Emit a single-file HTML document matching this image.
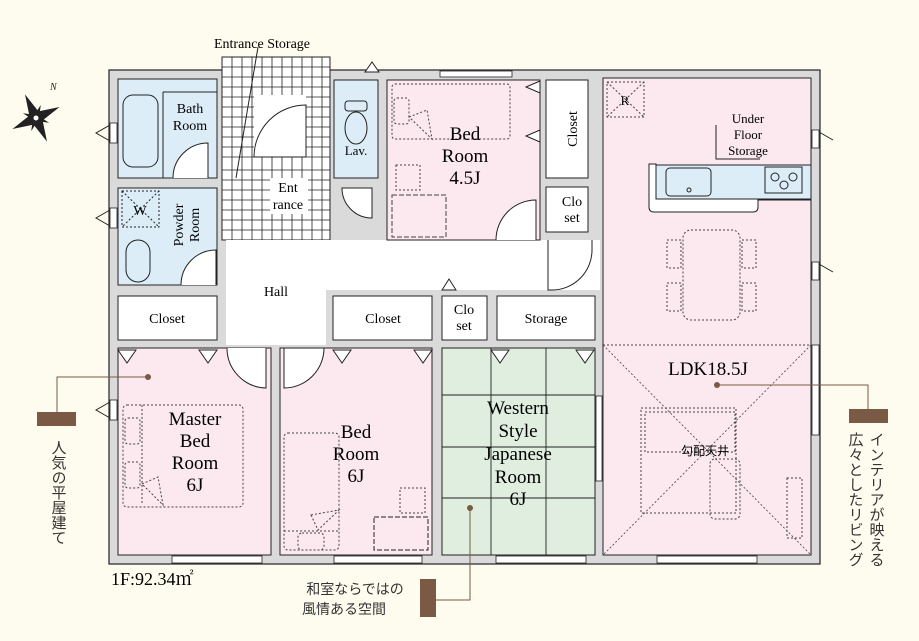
<!DOCTYPE html>
<html><head><meta charset="utf-8"><style>
body{margin:0;background:#fefcee;}
svg{display:block;font-family:"Liberation Serif","Noto Serif CJK SC",serif;}
.s{font-family:"Liberation Sans","Noto Sans CJK JP",sans-serif;}
</style></head><body>
<svg width="919" height="641" viewBox="0 0 919 641" xmlns="http://www.w3.org/2000/svg">
<rect width="919" height="641" fill="#fefcee"/>
<rect x="109" y="70" width="711" height="494" fill="#dadada" stroke="#222" stroke-width="1.2"/>
<rect x="222" y="57" width="108" height="183" fill="#fff" stroke="#222"/>
<g stroke="#222" stroke-width="0.8">
<path d="M222 67H330M222 77H330M222 87H330M222 97H330M222 107H330M222 117H330M222 127H330M222 137H330M222 147H330M222 157H330M222 170H330M222 180H330M222 190H330M222 200H330M222 210H330M222 220H330M222 230H330"/>
<path d="M232 57V240M242 57V240M252 57V240M262 57V240M272 57V240M282 57V240M292 57V240M302 57V240M312 57V240M322 57V240"/>
</g>
<rect x="254" y="95" width="52" height="62" fill="#fff"/>
<path d="M254 157 A52 52 0 0 1 306 105 V157Z" fill="#fff" stroke="#222"/>
<rect x="270" y="178" width="38" height="36" fill="#fff"/>
<line x1="258" y1="47" x2="236" y2="178" stroke="#222"/>
<text x="262" y="48" font-size="14" text-anchor="middle">Entrance Storage</text>
<text x="288" y="192" font-size="14" text-anchor="middle">Ent</text>
<text x="288" y="209" font-size="14" text-anchor="middle">rance</text>
<rect x="118" y="79" width="99" height="99" fill="#dcedf8" stroke="#222"/>
<rect x="123" y="95" width="35" height="72" rx="10" fill="none" stroke="#222"/>
<line x1="163" y1="92" x2="217" y2="92" stroke="#222"/><line x1="163" y1="92" x2="163" y2="178" stroke="#222"/>
<path d="M173 178 A35 35 0 0 1 208 143 V178" fill="#fff" stroke="#222"/>
<text x="190" y="113" font-size="14" text-anchor="middle">Bath</text>
<text x="190" y="130" font-size="14" text-anchor="middle">Room</text>
<rect x="118" y="188" width="99" height="97" fill="#dcedf8" stroke="#222"/>
<rect x="122" y="191" width="37" height="36" fill="none" stroke="#222" stroke-dasharray="2 2"/>
<path d="M122 191L159 227M159 191L122 227" stroke="#222" stroke-dasharray="2 2"/>
<text x="140" y="215" font-size="14" text-anchor="middle">W</text>
<rect x="126" y="240" width="24" height="42" rx="12" fill="none" stroke="#222"/>
<path d="M181 285 A35 35 0 0 1 216 250 V285" fill="#fff" stroke="#222"/>
<text transform="translate(183,225) rotate(-90)" font-size="14" text-anchor="middle">Powder</text>
<text transform="translate(199,225) rotate(-90)" font-size="14" text-anchor="middle">Room</text>
<rect x="334" y="80" width="44" height="98" fill="#dcedf8" stroke="#222"/>
<rect x="345" y="101" width="22" height="10" rx="3" fill="none" stroke="#222"/>
<ellipse cx="356" cy="128" rx="11" ry="16" fill="none" stroke="#222"/>
<text x="356" y="155" font-size="13" text-anchor="middle">Lav.</text>
<path d="M342 188 A30 30 0 0 0 372 218 V188Z" fill="#fff" stroke="#222"/>
<path d="M365 72 L372 62 L379 72Z" fill="#fff" stroke="#222"/>
<path d="M226 240H600V290H326V345H226Z" fill="#fff"/>
<text x="276" y="296" font-size="14" text-anchor="middle">Hall</text>
<path d="M442 290L449 279L456 290Z" fill="#fff" stroke="#222"/>
<rect x="387" y="80" width="153" height="160" fill="#fbe9ef" stroke="#222"/>
<rect x="392" y="84" width="118" height="55" rx="3" fill="none" stroke="#444" stroke-dasharray="2 2"/>
<rect x="394" y="98" width="15" height="26" rx="3" fill="none" stroke="#444" stroke-dasharray="2 2"/>
<path d="M409 117L427 110L432 139Z" fill="none" stroke="#444" stroke-dasharray="2 2"/>
<rect x="396" y="165" width="24" height="25" fill="none" stroke="#444" stroke-dasharray="2 2"/>
<rect x="392" y="195" width="54" height="42" fill="none" stroke="#444" stroke-dasharray="5 2"/>
<path d="M496 240 A40 40 0 0 1 536 200 V240" fill="#fff" stroke="#222"/>
<path d="M540 81L526 87L540 93Z M540 130L526 136L540 142Z" fill="#fff" stroke="#222"/>
<text x="465" y="140" font-size="19" text-anchor="middle">Bed</text>
<text x="465" y="162" font-size="19" text-anchor="middle">Room</text>
<text x="465" y="184" font-size="19" text-anchor="middle">4.5J</text>
<rect x="440" y="71" width="72" height="6" fill="#fff" stroke="#222" stroke-width="0.8"/>
<rect x="546" y="80" width="42" height="98" fill="#fff" stroke="#222"/>
<text transform="translate(577,129) rotate(-90)" font-size="14" text-anchor="middle">Closet</text>
<rect x="546" y="187" width="42" height="45" fill="#fff" stroke="#222"/>
<text x="572" y="206" font-size="14" text-anchor="middle">Clo</text>
<text x="572" y="222" font-size="14" text-anchor="middle">set</text>
<path d="M604 185L614 192L604 199Z" fill="#fff" stroke="#222"/>
<rect x="603" y="78" width="208" height="477" fill="#fbe9ef" stroke="#222"/>
<path d="M548 240V290 H552 A40 40 0 0 0 592 250 V240" fill="#fff" stroke="#222"/>
<rect x="607" y="82" width="37" height="35" fill="none" stroke="#444" stroke-dasharray="2 2"/>
<path d="M607 82L644 117M644 82L607 117" stroke="#444" stroke-dasharray="2 2"/>
<text x="625" y="105" font-size="13" text-anchor="middle">R</text>
<path d="M716 125V159H760" fill="none" stroke="#222"/>
<text x="748" y="123" font-size="13" text-anchor="middle">Under</text>
<text x="748" y="139" font-size="13" text-anchor="middle">Floor</text>
<text x="748" y="155" font-size="13" text-anchor="middle">Storage</text>
<path d="M649 164H656V178H811V200H758 V207 Q758 212 753 212H654 Q649 212 649 207Z" fill="#fff" stroke="#222"/>
<rect x="656" y="165" width="155" height="34" fill="#dcedf8" stroke="#222"/>
<rect x="666" y="168" width="45" height="28" rx="4" fill="none" stroke="#222"/>
<circle cx="689" cy="190" r="2" fill="none" stroke="#222"/>
<rect x="765" y="167" width="37" height="26" fill="#dcedf8" stroke="#222"/>
<g fill="none" stroke="#222"><circle cx="775" cy="177" r="4"/><circle cx="793" cy="177" r="4"/><circle cx="784" cy="185" r="4"/></g>
<g fill="none" stroke="#444" stroke-dasharray="2 2">
<rect x="683" y="230" width="57" height="90" rx="8"/>
<rect x="667" y="240" width="14" height="28"/><rect x="667" y="283" width="14" height="28"/>
<rect x="742" y="240" width="14" height="28"/><rect x="742" y="283" width="14" height="28"/>
<path d="M603 345H811"/>
</g>
<path d="M603 345L811 555M811 345L603 555" stroke="#444" stroke-width="0.8" stroke-dasharray="2 2"/>
<g fill="none" stroke="#444" stroke-dasharray="2 2">
<rect x="641" y="408" width="95" height="105"/><rect x="645" y="412" width="90" height="40"/>
<rect x="710" y="459" width="30" height="60" rx="5"/>
<rect x="787" y="478" width="15" height="60"/>
</g>
<text x="708" y="375" font-size="19" text-anchor="middle">LDK18.5J</text>
<text x="705" y="455" font-size="12" text-anchor="middle" class="s">勾配天井</text>
<rect x="118" y="296" width="99" height="44" fill="#fff" stroke="#222"/>
<text x="167" y="323" font-size="14" text-anchor="middle">Closet</text>
<rect x="333" y="296" width="99" height="44" fill="#fff" stroke="#222"/>
<text x="383" y="323" font-size="14" text-anchor="middle">Closet</text>
<rect x="442" y="296" width="45" height="44" fill="#fff" stroke="#222"/>
<text x="464" y="314" font-size="14" text-anchor="middle">Clo</text>
<text x="464" y="330" font-size="14" text-anchor="middle">set</text>
<rect x="497" y="296" width="98" height="44" fill="#fff" stroke="#222"/>
<text x="546" y="323" font-size="14" text-anchor="middle">Storage</text>
<rect x="118" y="348" width="153" height="207" fill="#fbe9ef" stroke="#222"/>
<g fill="none" stroke="#444" stroke-dasharray="2 2">
<rect x="123" y="405" width="120" height="102" rx="4"/>
<rect x="125" y="418" width="15" height="26" rx="3"/><rect x="125" y="462" width="15" height="26" rx="3"/>
<path d="M142 484L158 477L163 505Z M142 405V505"/>
</g>
<text x="195" y="425" font-size="19" text-anchor="middle">Master</text>
<text x="195" y="447" font-size="19" text-anchor="middle">Bed</text>
<text x="195" y="469" font-size="19" text-anchor="middle">Room</text>
<text x="195" y="491" font-size="19" text-anchor="middle">6J</text>
<path d="M118 350L127 363L136 350Z M199 350L208 363L217 350Z" fill="#fff" stroke="#222"/>
<path d="M227 348 A40 40 0 0 0 266 388 V348" fill="#fff" stroke="#222"/>
<rect x="280" y="348" width="152" height="207" fill="#fbe9ef" stroke="#222"/>
<path d="M284 388 A40 40 0 0 0 324 348 H284Z" fill="#fff" stroke="#222"/>
<path d="M333 350L342 363L351 350Z M414 350L423 363L432 350Z" fill="#fff" stroke="#222"/>
<g fill="none" stroke="#444" stroke-dasharray="2 2">
<rect x="284" y="433" width="55" height="117" rx="4"/>
<rect x="298" y="533" width="26" height="17" rx="4"/>
<path d="M311 515L339 510L318 530Z M284 531H339"/>
<rect x="400" y="488" width="25" height="25"/>
</g>
<rect x="374" y="517" width="54" height="33" fill="none" stroke="#222" stroke-dasharray="5 2"/>
<text x="356" y="438" font-size="19" text-anchor="middle">Bed</text>
<text x="356" y="460" font-size="19" text-anchor="middle">Room</text>
<text x="356" y="482" font-size="19" text-anchor="middle">6J</text>
<rect x="442" y="348" width="153" height="207" fill="#dfeedf" stroke="#222"/>
<g stroke="#222" stroke-width="0.9">
<path d="M442 395H595M442 447H595M442 498H595M491 348V555M546 348V555"/>
</g>
<path d="M491 350L500 363L509 350Z M576 350L585 363L594 350Z" fill="#fff" stroke="#222"/>
<text x="518" y="414" font-size="19" text-anchor="middle">Western</text>
<text x="518" y="437" font-size="19" text-anchor="middle">Style</text>
<text x="518" y="460" font-size="19" text-anchor="middle">Japanese</text>
<text x="518" y="483" font-size="19" text-anchor="middle">Room</text>
<text x="518" y="505" font-size="19" text-anchor="middle">6J</text>
<g fill="#fff" stroke="#222" stroke-width="0.8">
<rect x="172" y="556" width="90" height="7"/><rect x="334" y="556" width="88" height="7"/>
<rect x="496" y="556" width="90" height="7"/><rect x="657" y="556" width="100" height="7"/>
<rect x="812" y="345" width="7" height="90"/><rect x="596" y="396" width="6" height="85"/>
<rect x="110" y="123" width="7" height="20"/><rect x="110" y="208" width="7" height="20"/>
<rect x="110" y="400" width="7" height="20"/><rect x="812" y="130" width="7" height="18"/><rect x="812" y="262" width="7" height="18"/>
</g>
<path d="M110 125L96 133L110 141 M110 210L96 218L110 226 M110 402L96 410L110 418 M819 132L833 140 M819 264L833 272" fill="none" stroke="#222"/>
<circle cx="148" cy="377" r="3" fill="#7b5a45"/>
<path d="M148 377H57V412" fill="none" stroke="#7b5a45"/>
<rect x="37" y="412" width="39" height="14" fill="#7b5a45"/>
<text x="58" y="440" font-size="15" class="s" fill="#333" style="writing-mode:vertical-rl">人気の平屋建て</text>
<circle cx="717" cy="385" r="3" fill="#7b5a45"/>
<path d="M717 385H868V409" fill="none" stroke="#7b5a45"/>
<rect x="849" y="409" width="39" height="14" fill="#7b5a45"/>
<text x="876" y="432" font-size="15" class="s" fill="#333" style="writing-mode:vertical-rl">インテリアが映える</text>
<text x="855" y="432" font-size="15" class="s" fill="#333" style="writing-mode:vertical-rl">広々としたリビング</text>
<circle cx="470" cy="508" r="3" fill="#7b5a45"/>
<path d="M470 508V600H436" fill="none" stroke="#7b5a45"/>
<rect x="420" y="579" width="16" height="38" fill="#7b5a45"/>
<text x="355" y="594" font-size="14" class="s" fill="#333" text-anchor="middle">和室ならではの</text>
<text x="344" y="614" font-size="14" class="s" fill="#333" text-anchor="middle">風情ある空間</text>
<text x="111" y="585" font-size="18">1F:92.34㎡</text>
<g transform="translate(36,118)" fill="#222">
<path d="M0 -26L5 -5L26 0L5 5L0 26L-5 5L-26 0L-5 -5Z" transform="rotate(-25)"/>
<path d="M0 -14L3 0L0 14L-3 0Z" transform="rotate(20)"/>
<path d="M0 -14L3 0L0 14L-3 0Z" transform="rotate(110)"/>
<circle r="3" fill="#fff" stroke="#222"/>
<text x="14" y="-28" font-size="10" font-style="italic">N</text>
</g>
</svg>
</body></html>
